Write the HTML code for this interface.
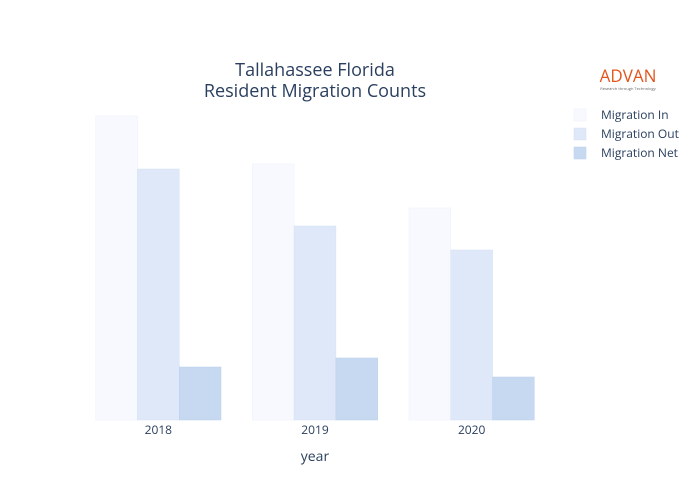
<!DOCTYPE html>
<html><head><meta charset="utf-8"><style>
body{margin:0;background:#fff;}
svg{display:block;font-family:"Open Sans","Liberation Sans",sans-serif;}
</style></head><body>
<svg id="chart" width="700" height="500">
<text x="315" y="76" text-anchor="middle" font-size="18" fill="#2a3f5f">Tallahassee Florida</text>
<text x="315" y="97" text-anchor="middle" font-size="18" fill="#2a3f5f">Resident Migration Counts</text>
<g id="bars"></g>
<g id="xticks"></g>
<text x="315" y="461" text-anchor="middle" font-size="14" fill="#2a3f5f">year</text>
<g>
<text x="628" y="82" text-anchor="middle" font-size="17" fill="#e2541c">ADVAN</text>
<text x="628" y="90" text-anchor="middle" font-size="4" fill="#666">Research through Technology</text>
</g>
<g id="legend"></g>
</svg>
<script>
const categories = ["2018","2019","2020"];
const seriesNames = ["Migration In","Migration Out","Migration Net"];
const migrationIn = [304, 256, 212];
const migrationOut = [251, 194, 170];
const migrationNet = [53, 62, 43];
const colors = ["#f8f9fe","#dfe8f8","#c6d9f1"];
const strokes = ["#eef0fa","#d3dff3","#bcd0ec"];
const series = [migrationIn, migrationOut, migrationNet];
const NS = "http://www.w3.org/2000/svg";
const plotL = 80, plotR = 550, plotB = 420, plotT = 100, yMax = 320;
const band = (plotR - plotL) / categories.length;
const barW = band * 0.8 / series.length;
function xCenter(i){ return plotL + band * (i + 0.5); }
function yPos(v){ return plotB - v / yMax * (plotB - plotT); }
const gb = document.getElementById('bars');
series.forEach((s, si) => {
  s.forEach((v, ci) => {
    const r = document.createElementNS(NS, 'rect');
    const x = xCenter(ci) - band * 0.4 + si * barW;
    r.setAttribute('x', x);
    r.setAttribute('y', yPos(v));
    r.setAttribute('width', barW);
    r.setAttribute('height', plotB - yPos(v));
    r.setAttribute('fill', colors[si]);
    r.setAttribute('stroke', strokes[si]);
    r.setAttribute('stroke-width', '0.5');
    
    
    gb.appendChild(r);
  });
});
const gx = document.getElementById('xticks');
categories.forEach((c, ci) => {
  const t = document.createElementNS(NS, 'text');
  t.setAttribute('x', xCenter(ci));
  t.setAttribute('y', 434);
  t.setAttribute('text-anchor', 'middle');
  t.setAttribute('font-size', '12');
  t.setAttribute('fill', '#2a3f5f');
  t.textContent = c;
  
  
  gx.appendChild(t);
});
const gl = document.getElementById('legend');
seriesNames.forEach((n, i) => {
  const y = 115 + i * 19;
  const r = document.createElementNS(NS, 'rect');
  r.setAttribute('x', 574); r.setAttribute('y', y - 6);
  r.setAttribute('width', 12); r.setAttribute('height', 12);
  r.setAttribute('fill', colors[i]);
  r.setAttribute('stroke', strokes[i]); r.setAttribute('stroke-width', '0.5');
  
  
  gl.appendChild(r);
  const t = document.createElementNS(NS, 'text');
  t.setAttribute('x', 601); t.setAttribute('y', y + 4);
  t.setAttribute('font-size', '12'); t.setAttribute('fill', '#2a3f5f');
  t.textContent = n;
  
  
  gl.appendChild(t);
});
</script>
</body></html>
